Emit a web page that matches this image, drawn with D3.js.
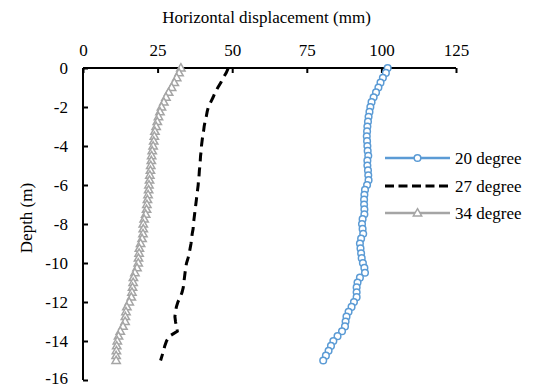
<!DOCTYPE html>
<html>
<head>
<meta charset="utf-8">
<script src="https://cdn.jsdelivr.net/npm/d3@7"></script>
<style>
  html, body { margin: 0; padding: 0; background: #fff; }
  svg { display: block; }
  svg text { font-family: "Times New Roman", "Liberation Serif", "DejaVu Serif", "Noto Serif", serif !important; fill: #000; }
</style>
</head>
<body>
<svg id="chart" width="537" height="389"></svg>
<script>
// ---- Data ----
const depths = [0, -0.25, -0.5, -0.75, -1, -1.25, -1.5, -1.75, -2, -2.25, -2.5, -2.75, -3, -3.25, -3.5, -3.75,
  -4, -4.25, -4.5, -4.75, -5, -5.25, -5.5, -5.75, -6, -6.25, -6.5, -6.75, -7, -7.25, -7.5, -7.75,
  -8, -8.25, -8.5, -8.75, -9, -9.25, -9.5, -9.75, -10, -10.25, -10.5, -10.75, -11, -11.25, -11.5, -11.75,
  -12, -12.25, -12.5, -12.75, -13, -13.25, -13.5, -13.75, -14, -14.25, -14.5, -14.75, -15];

const deg20 = [102.1, 101.5, 100.5, 99.7, 99.0, 98.2, 97.4, 96.7, 96.3, 96.0, 95.7, 95.5, 95.3, 95.2, 95.1, 95.2,
  95.3, 95.4, 95.6, 95.3, 95.3, 95.5, 95.6, 95.7, 95.2, 94.5, 94.3, 94.2, 94.2, 94.3, 94.3, 93.7,
  93.5, 93.7, 93.9, 93.2, 92.8, 93.0, 93.2, 93.4, 93.8, 94.3, 94.5, 92.8, 92.0, 91.7, 91.7, 91.7,
  90.8, 90.0, 89.0, 88.3, 88.0, 87.8, 86.8, 85.3, 83.9, 83.1, 82.3, 81.4, 80.5];

const deg27 = [48.7, 48.0, 47.0, 46.2, 45.2, 44.3, 43.6, 42.8, 42.0, 41.6, 41.3, 40.9, 40.6, 40.4, 40.1, 39.9,
  39.7, 39.6, 39.4, 39.3, 39.2, 39.0, 38.9, 38.7, 38.6, 38.4, 38.2, 38.0, 37.8, 37.6, 37.4, 37.2,
  37.0, 36.9, 36.6, 36.4, 36.2, 35.9, 35.6, 35.2, 34.7, 34.4, 34.2, 34.0, 33.8, 33.6, 33.2, 32.6,
  31.8, 31.3, 31.0, 30.8, 31.0, 31.3, 31.6, 29.0, 28.0, 27.4, 27.0, 26.5, 26.0];

const deg34 = [32.8, 32.2, 31.4, 30.6, 29.7, 28.7, 27.8, 27.1, 26.3, 25.8, 25.3, 24.9, 24.5, 24.1, 23.9, 23.7,
  23.5, 23.2, 23.0, 22.9, 22.7, 22.6, 22.4, 22.3, 22.1, 22.0, 21.8, 21.6, 21.4, 21.3, 21.0, 20.5,
  20.2, 20.2, 20.1, 19.8, 19.3, 18.9, 18.8, 18.6, 18.5, 18.1, 17.4, 16.9, 16.8, 16.6, 16.4, 16.2,
  15.5, 14.7, 14.4, 14.2, 14.1, 13.4, 12.5, 11.9, 11.5, 11.3, 11.2, 11.1, 11.1];

const seriesNames = ["20 degree", "27 degree", "34 degree"];
const xTicks = [0, 25, 50, 75, 100, 125];
const yTicks = [0, -2, -4, -6, -8, -10, -12, -14, -16];
const xTitle = "Horizontal displacement (mm)";
const yTitle = "Depth (m)";

// ---- Layout ----
const svg = d3.select("#chart");
const x = d3.scaleLinear().domain([0, 125]).range([83, 456]);
const y = d3.scaleLinear().domain([0, -16]).range([68, 380]);
const FS = 17;

const xAxis = d3.axisTop(x).tickValues(xTicks).tickSize(-5).tickPadding(12).tickFormat(d3.format("d"));
const yAxis = d3.axisLeft(y).tickValues(yTicks).tickSize(-5).tickPadding(15).tickFormat(d => d === 0 ? "0" : "-" + Math.abs(d));

const gx = svg.append("g").attr("transform", `translate(0,${y(0)})`).call(xAxis);
const gy = svg.append("g").attr("transform", `translate(${x(0)},0)`).call(yAxis);
[gx, gy].forEach(g => {
  g.attr("font-family", null);
  g.select(".domain").attr("stroke", "#000").attr("stroke-width", 2);
  g.selectAll(".tick line").attr("stroke", "#000").attr("stroke-width", 2);
  g.selectAll(".tick text").attr("font-size", FS).attr("fill", "#000");
});
gx.select(".domain").attr("d", `M${x(0)},0H${x(125)}`);
gy.select(".domain").attr("d", `M0,${y(0)}V${y(-16)}`);
gy.selectAll(".tick text").attr("dy", d => d === -16 ? "0.2em" : "0.3em");

svg.append("text").attr("x", (x(0) + x(125)) / 2 - 3).attr("y", 23)
  .attr("text-anchor", "middle").attr("font-size", FS).text(xTitle);
svg.append("text").attr("transform", `translate(32,${(y(0) + y(-16)) / 2 - 6}) rotate(-90)`)
  .attr("text-anchor", "middle").attr("font-size", FS).text(yTitle);

const BLUE = "#5B9BD5", GRAY = "#A5A5A5";
const line = d3.line().x(d => x(d[0])).y(d => y(d[1]));
const pts20 = deg20.map((v, i) => [v, depths[i]]);
const pts27 = deg27.map((v, i) => [v, depths[i]]);
const pts34 = deg34.map((v, i) => [v, depths[i]]);

// 34 degree (gray, triangles)
svg.append("path").attr("d", line(pts34)).attr("fill", "none").attr("stroke", GRAY).attr("stroke-width", 2.25);
const tri = d3.symbol().type(d3.symbolTriangle).size(30);
svg.append("g").selectAll("path").data(pts34).join("path")
  .attr("d", tri).attr("transform", d => `translate(${x(d[0])},${y(d[1]) + 0.5})`)
  .attr("fill", "#fff").attr("stroke", GRAY).attr("stroke-width", 1.5);

// 27 degree (black dashed)
svg.append("path").attr("d", line(pts27)).attr("fill", "none").attr("stroke", "#000")
  .attr("stroke-width", 3).attr("stroke-dasharray", "9,6");

// 20 degree (blue, circles)
svg.append("path").attr("d", line(pts20)).attr("fill", "none").attr("stroke", BLUE).attr("stroke-width", 2.25);
svg.append("g").selectAll("circle").data(pts20).join("circle")
  .attr("cx", d => x(d[0])).attr("cy", d => y(d[1])).attr("r", 3.3)
  .attr("fill", "#fff").attr("stroke", BLUE).attr("stroke-width", 1.5);

// Legend
const leg = svg.append("g");
const rowsY = [158, 186, 213];
const lx0 = 385, lx1 = 450;
leg.append("line").attr("x1", lx0).attr("x2", lx1).attr("y1", rowsY[0]).attr("y2", rowsY[0]).attr("stroke", BLUE).attr("stroke-width", 2.5);
leg.append("circle").attr("cx", (lx0 + lx1) / 2).attr("cy", rowsY[0]).attr("r", 3.3).attr("fill", "#fff").attr("stroke", BLUE).attr("stroke-width", 1.5);
leg.append("line").attr("x1", lx0).attr("x2", lx1).attr("y1", rowsY[1]).attr("y2", rowsY[1]).attr("stroke", "#000").attr("stroke-width", 3).attr("stroke-dasharray", "9,4.5");
leg.append("line").attr("x1", lx0).attr("x2", lx1).attr("y1", rowsY[2]).attr("y2", rowsY[2]).attr("stroke", GRAY).attr("stroke-width", 2.5);
leg.append("path").attr("d", tri).attr("transform", `translate(${(lx0 + lx1) / 2},${rowsY[2] + 0.5})`).attr("fill", "#fff").attr("stroke", GRAY).attr("stroke-width", 1.5);
leg.selectAll("text").data(seriesNames).join("text")
  .attr("x", 455).attr("y", (d, i) => rowsY[i]).attr("dy", "0.35em").attr("font-size", FS).text(d => d);
</script>
</body>
</html>
